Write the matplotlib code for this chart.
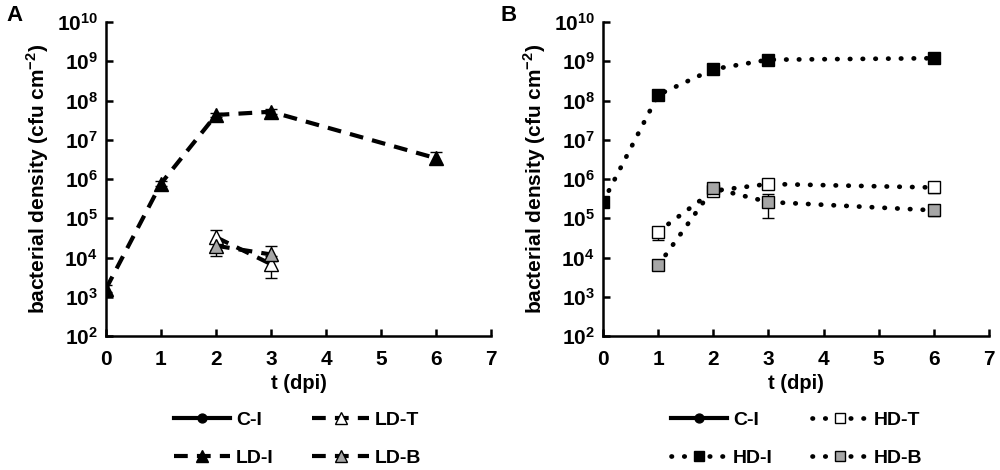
import matplotlib
matplotlib.use('Agg')
import matplotlib.pyplot as plt
from matplotlib.ticker import FixedLocator, FuncFormatter
import numpy as np

plt.rcParams['font.family'] = ['Liberation Sans', 'DejaVu Sans']
plt.rcParams['font.weight'] = 'bold'
plt.rcParams['mathtext.fontset'] = 'custom'
plt.rcParams['mathtext.rm'] = 'Liberation Sans:bold'
plt.rcParams['mathtext.bf'] = 'Liberation Sans:bold'

# ---- data (cfu cm-2) ----
ci_days = []
ci_vals = []

ld_i_days = [0, 1, 2, 3, 6]
ld_i_vals = [1.6e3, 7.7e5, 4.3e7, 5.2e7, 3.4e6]
ld_i_low = [1.3e3, 6.5e5, 3.8e7, 4.6e7, 2.4e6]
ld_i_high = [2.0e3, 9.0e5, 4.8e7, 6.0e7, 4.9e6]

ld_t_days = [2, 3]
ld_t_vals = [3.3e4, 6.8e3]
ld_t_low = [1.6e4, 3.1e3]
ld_t_high = [5.0e4, 1.1e4]

ld_b_days = [2, 3]
ld_b_vals = [2.0e4, 1.2e4]
ld_b_low = [1.07e4, 8.0e3]
ld_b_high = [2.6e4, 2.0e4]

hd_i_days = [0, 1, 2, 3, 6]
hd_i_vals = [2.6e5, 1.4e8, 6.3e8, 1.1e9, 1.2e9]
hd_i_low = [2.2e5, 1.2e8, 5.6e8, 1.0e9, 1.05e9]
hd_i_high = [3.0e5, 1.6e8, 7.0e8, 1.2e9, 1.35e9]

hd_t_days = [1, 2, 3, 6]
hd_t_vals = [4.6e4, 5.0e5, 7.5e5, 6.1e5]
hd_t_low = [2.8e4, 4.3e5, 6.5e5, 4.5e5]
hd_t_high = [5.5e4, 5.6e5, 8.5e5, 7.0e5]

hd_b_days = [1, 2, 3, 6]
hd_b_vals = [6.3e3, 5.8e5, 2.6e5, 1.6e5]
hd_b_low = [5.0e3, 4.8e5, 1.0e5, 1.15e5]
hd_b_high = [7.5e3, 6.8e5, 4.1e5, 1.9e5]


def errs(vals, low, high):
    v = np.array(vals)
    return [v - np.array(low), np.array(high) - v]


def decade_fmt(y, pos):
    return r'$\mathbf{10^{%d}}$' % int(round(np.log10(y)))


def style_axes(ax):
    ax.set_yscale('log')
    ax.set_ylim(1e2, 1e10)
    ax.set_xlim(0, 7)
    ax.yaxis.set_major_locator(FixedLocator([10.0 ** k for k in range(2, 11)]))
    ax.yaxis.set_minor_locator(FixedLocator([]))
    ax.yaxis.set_major_formatter(FuncFormatter(decade_fmt))
    ax.set_xticks(range(8))
    ax.spines['top'].set_visible(False)
    ax.spines['right'].set_visible(False)
    ax.spines['left'].set_linewidth(1.8)
    ax.spines['bottom'].set_linewidth(1.8)
    ax.tick_params(direction='in', length=5, width=1.8, labelsize=15)
    ax.tick_params(axis='y', pad=6)
    ax.tick_params(axis='x', pad=10)
    for lab in ax.get_xticklabels() + ax.get_yticklabels():
        lab.set_fontweight('bold')
    ax.set_xlabel('t (dpi)', fontsize=14.5, fontweight='bold', labelpad=4)
    ax.set_ylabel('bacterial density (cfu cm$^{-2}$)', fontsize=15,
                  fontweight='bold', labelpad=4)


def series(ax, days, vals, low, high, marker, face, ls, label, ms):
    ax.errorbar(days, vals, yerr=errs(vals, low, high), fmt='none',
                ecolor='black', elinewidth=1.0, capsize=4, capthick=1.0, zorder=2)
    line, = ax.plot(days, vals, color='black', linewidth=3, marker=marker,
                    markersize=ms, markerfacecolor=face, markeredgecolor='black',
                    markeredgewidth=1.0, label=label, zorder=3)
    if ls == 'dash':
        line.set_dashes((3.3, 2.2))
    else:
        line.set_linewidth(3.4)
        line.set_dashes((0.1, 2.6))
        line.set_dash_capstyle('round')
    return line


fig = plt.figure(figsize=(10, 4.7), dpi=100)
axA = fig.add_axes([0.106, 0.285, 0.385, 0.668])
axB = fig.add_axes([0.603, 0.285, 0.386, 0.668])

for ax in (axA, axB):
    style_axes(ax)

# panel A
hA = []
l, = axA.plot(ci_days, ci_vals, color='black', linewidth=3, marker='o',
              markersize=8, label='C-I')
hA.append(l)
hA.append(series(axA, ld_i_days, ld_i_vals, ld_i_low, ld_i_high, '^', 'black', 'dash', 'LD-I', 10))
hA.append(series(axA, ld_t_days, ld_t_vals, ld_t_low, ld_t_high, '^', 'white', 'dash', 'LD-T', 10))
hA.append(series(axA, ld_b_days, ld_b_vals, ld_b_low, ld_b_high, '^', '#a6a6a6', 'dash', 'LD-B', 10))

# panel B
hB = []
l, = axB.plot(ci_days, ci_vals, color='black', linewidth=3, marker='o',
              markersize=8, label='C-I')
hB.append(l)
hB.append(series(axB, hd_i_days, hd_i_vals, hd_i_low, hd_i_high, 's', 'black', 'dot', 'HD-I', 9))
hB.append(series(axB, hd_t_days, hd_t_vals, hd_t_low, hd_t_high, 's', 'white', 'dot', 'HD-T', 9))
hB.append(series(axB, hd_b_days, hd_b_vals, hd_b_low, hd_b_high, 's', '#a6a6a6', 'dot', 'HD-B', 9))

legend_kw = dict(ncol=2, frameon=False, fontsize=14, handlelength=2.9,
                 numpoints=1, markerscale=0.8, columnspacing=2.0,
                 handletextpad=0.3, labelspacing=1.05)
legA = axA.legend(handles=hA, loc='upper left', bbox_to_anchor=(0.13, -0.185), **legend_kw)
legB = axB.legend(handles=hB, loc='upper left', bbox_to_anchor=(0.13, -0.185), **legend_kw)
for leg in (legA, legB):
    for t in leg.get_texts():
        t.set_fontweight('bold')

fig.text(0.006, 0.99, 'A', fontsize=16, fontweight='bold', va='top', ha='left')
fig.text(0.500, 0.99, 'B', fontsize=16, fontweight='bold', va='top', ha='left')

fig.savefig('out.png', dpi=100)
